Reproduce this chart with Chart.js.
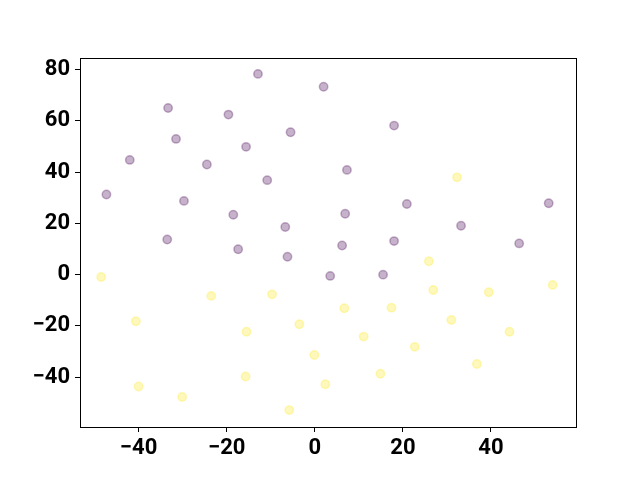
<!DOCTYPE html>
<html>
<head>
  <meta charset="UTF-8">
  <title>Scatter</title>
  <script src="https://cdn.jsdelivr.net/npm/chart.js"></script>
  <style>
    body { margin: 0; background: #fff; }
    #wrap { width: 640px; height: 480px; }
  </style>
</head>
<body>
  <div id="wrap"><canvas id="chart"></canvas></div>
  <script>
    // class 0 (purple)
    const purpleX = [-12.9, 2.0, -33.3, -19.6, -5.5, -31.5, -15.6, -42.0, -24.5, -10.8, -47.3, -29.7, -18.5, -6.7,
      -33.5, 18.0, 7.3, 20.9, 53.1, 6.9, 33.2, 18.0, 46.4, 6.2, -17.4, -6.2, 3.5, 15.5];
    const purpleY = [78.4, 73.4, 65.1, 62.5, 55.6, 53.0, 49.9, 44.8, 43.0, 36.9, 31.3, 28.8, 23.4, 18.6,
      13.7, 58.2, 40.9, 27.6, 27.9, 23.8, 19.1, 13.1, 12.2, 11.4, 9.9, 7.0, -0.5, 0.0];
    // class 1 (yellow)
    const yellowX = [32.3, -48.5, -23.5, -9.7, -40.6, -15.5, -3.5, -0.1, -40.0, -15.7, 2.4, -30.1, -5.8,
      25.9, 26.9, 39.5, 54.0, 6.7, 17.4, 31.0, 44.2, 11.1, 22.7, 36.8, 14.9];
    const yellowY = [38.0, -0.9, -8.3, -7.7, -18.2, -22.3, -19.4, -31.4, -43.7, -39.8, -42.8, -47.8, -52.9,
      5.2, -6.0, -6.9, -4.0, -13.1, -12.9, -17.7, -22.3, -24.2, -28.2, -34.9, -38.7];

    const xTicks = [-40, -20, 0, 20, 40];
    const yTicks = [-40, -20, 0, 20, 40, 60, 80];

    const toPoints = (xs, ys) => xs.map((x, i) => ({ x: x, y: ys[i] }));

    const frame = {
      id: 'frame',
      afterDraw(chart) {
        const a = chart.chartArea;
        const ctx = chart.ctx;
        ctx.save();
        ctx.strokeStyle = '#000';
        ctx.lineWidth = 1;
        ctx.strokeRect(Math.round(a.left) + 0.5, Math.round(a.top) + 0.5,
          Math.round(a.right - a.left), Math.round(a.bottom - a.top));
        ctx.restore();
      }
    };

    const tickFont = { family: 'Roboto', size: 22, weight: 'bold' };
    const minus = v => String(v).replace('-', '\u2212');

    new Chart(document.getElementById('chart'), {
      type: 'scatter',
      data: {
        datasets: [
          {
            data: toPoints(purpleX, purpleY),
            backgroundColor: 'rgba(68, 1, 84, 0.3)',
            borderColor: 'rgba(68, 1, 84, 0.3)',
            borderWidth: 1.5,
            pointRadius: 4.2
          },
          {
            data: toPoints(yellowX, yellowY),
            backgroundColor: 'rgba(253, 231, 37, 0.3)',
            borderColor: 'rgba(253, 231, 37, 0.3)',
            borderWidth: 1.5,
            pointRadius: 4.2
          }
        ]
      },
      options: {
        responsive: true,
        maintainAspectRatio: false,
        animation: false,
        layout: { padding: { left: 0, top: 58, right: 64, bottom: 0 } },
        plugins: { legend: { display: false }, tooltip: { enabled: false } },
        scales: {
          x: {
            min: -53.3,
            max: 59.3,
            afterBuildTicks: s => { s.ticks = xTicks.map(v => ({ value: v })); },
            afterFit: s => { s.height = 53; },
            grid: { drawOnChartArea: false, tickLength: 5, color: '#000' },
            border: { color: '#000' },
            ticks: { color: '#000', font: tickFont, padding: 3, maxRotation: 0, callback: minus }
          },
          y: {
            min: -59.5,
            max: 84.6,
            afterBuildTicks: s => { s.ticks = yTicks.map(v => ({ value: v })); },
            afterFit: s => { s.width = 80; },
            grid: { drawOnChartArea: false, tickLength: 5, color: '#000' },
            border: { color: '#000' },
            ticks: { color: '#000', font: tickFont, padding: 5, callback: minus }
          }
        }
      },
      plugins: [frame]
    });
  </script>
</body>
</html>
